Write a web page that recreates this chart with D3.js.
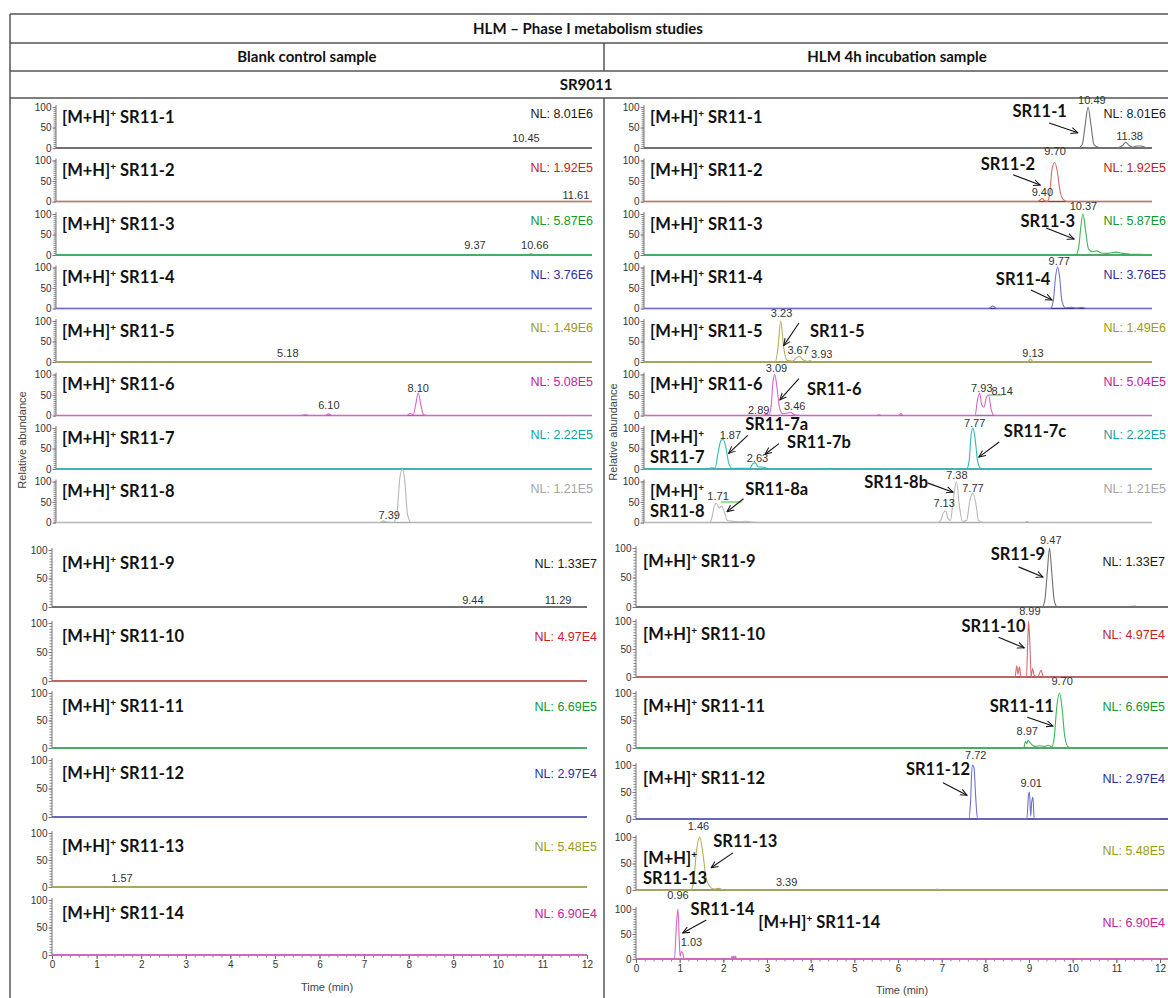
<!DOCTYPE html>
<html>
<head>
<meta charset="utf-8">
<script src="https://cdn.jsdelivr.net/npm/d3@7"></script>
<style>
body{margin:0;background:#fff}
svg{display:block}
.hdr{font-family:Lato,"Open Sans",sans-serif;font-weight:700;font-size:15px;fill:#111}
.lbl{font-family:Lato,"Open Sans",sans-serif;font-weight:700;font-size:16.5px;fill:#111}
.tick text{font-family:"Liberation Sans",Arial,sans-serif;font-size:10px;fill:#333}
.pk{font-family:"Liberation Sans",Arial,sans-serif;font-size:11px;fill:#333}
.nl{font-family:"Liberation Sans",Arial,sans-serif;font-size:12.5px}
.ax{font-family:"Liberation Sans",Arial,sans-serif;font-size:11px;fill:#444}
</style>
</head>
<body>
<script>
// ---- data ----
var ions = d3.range(1, 15).map(function(i){ return "SR11-" + i; });
var nlBlank = ["8.01E6","1.92E5","5.87E6","3.76E6","1.49E6","5.08E5","2.22E5","1.21E5","1.33E7","4.97E4","6.69E5","2.97E4","5.48E5","6.90E4"];
var nlHlm   = ["8.01E6","1.92E5","5.87E6","3.76E5","1.49E6","5.04E5","2.22E5","1.21E5","1.33E7","4.97E4","6.69E5","2.97E4","5.48E5","6.90E4"];
var timeTicks = d3.range(0, 13);
var abundanceTicks = [0, 50, 100];

// chromatogram traces, [time (min), relative abundance %]
var blankTraces = [
  [[0,0],[12,0]],
  [[0,0],[12,0]],
  [[0,0],[9.3,0],[9.37,1],[9.45,0],[10.55,0],[10.63,3],[10.72,0],[12,0]],
  [[0,0],[12,0]],
  [[0,0],[12,0]],
  [[0,0],[5.5,0],[5.58,2],[5.66,0],[6.03,0],[6.1,4],[6.18,0],[7.85,0],[7.93,5],[8.0,2],[8.05,25],[8.11,55],[8.17,25],[8.23,2],[8.3,0],[12,0]],
  [[0,0],[12,0]],
  [[0,0],[7.25,0],[7.33,4],[7.4,1],[7.55,0],[7.63,20],[7.7,110],[7.75,130],[7.8,110],[7.87,20],[7.95,0],[12,0]],
  [[0,0],[9.4,0],[9.44,1],[9.5,0],[12,0]],
  [[0,0],[12,0]],
  [[0,0],[12,0]],
  [[0,0],[12,0]],
  [[0,0],[12,0]],
  [[0,0],[12,0]]
];
var hlmTraces = [
  [[0,0],[10.25,0],[10.35,8],[10.42,55],[10.49,100],[10.56,55],[10.63,8],[10.75,1],[11.2,1],[11.3,6],[11.38,14],[11.46,6],[11.55,2],[11.65,5],[11.75,5],[11.85,1],[12,0]],
  [[0,0],[9.3,0],[9.36,4],[9.40,8],[9.45,3],[9.52,0],[9.58,15],[9.64,80],[9.70,95],[9.76,75],[9.82,30],[9.9,5],[10,0],[12,0]],
  [[0,0],[10.2,0],[10.27,20],[10.32,70],[10.37,100],[10.43,60],[10.5,15],[10.6,8],[10.7,10],[10.8,5],[10.95,4],[11.15,7],[11.3,4],[11.5,2],[11.7,2],[12,0]],
  [[0,0],[8.15,0],[8.24,6],[8.33,0],[9.6,0],[9.67,20],[9.72,75],[9.77,102],[9.82,75],[9.87,20],[9.95,2],[10.1,3],[10.2,1],[10.35,3],[10.45,0],[12,0]],
  [[0,0],[3.1,0],[3.16,30],[3.23,100],[3.3,35],[3.38,4],[3.5,2],[3.6,10],[3.67,14],[3.75,6],[3.85,2],[3.93,3],[4.0,0],[9.05,0],[9.13,7],[9.2,0],[12,0]],
  [[0,0],[2.8,0],[2.89,3],[2.95,1],[3.0,20],[3.05,85],[3.09,100],[3.14,70],[3.2,20],[3.28,4],[3.38,6],[3.46,8],[3.55,2],[3.7,0],[5.5,0],[5.55,2],[5.6,0],[6.02,0],[6.07,5],[6.12,0],[7.82,0],[7.88,40],[7.93,55],[7.98,25],[8.03,20],[8.09,45],[8.14,50],[8.2,15],[8.28,0],[12,0]],
  [[0,0],[1.5,0],[1.6,3],[1.68,2],[1.75,40],[1.82,70],[1.87,72],[1.93,55],[2.0,15],[2.08,2],[2.5,2],[2.58,14],[2.63,15],[2.7,5],[2.78,5],[2.85,4],[2.92,0],[4.3,0],[4.4,2],[4.5,0],[7.62,0],[7.68,20],[7.73,85],[7.77,100],[7.82,75],[7.88,20],[7.95,2],[8.05,0],[12,0]],
  [[0,0],[1.55,0],[1.6,10],[1.66,40],[1.71,47],[1.77,35],[1.83,40],[1.9,25],[1.97,5],[2.1,3],[2.25,2],[2.4,3],[2.55,1],[2.7,0],[6.95,0],[7.02,8],[7.08,25],[7.13,28],[7.18,10],[7.24,5],[7.3,50],[7.38,100],[7.45,40],[7.52,3],[7.62,5],[7.7,55],[7.77,72],[7.84,45],[7.9,5],[8.0,0],[9.0,0],[9.05,3],[9.1,0],[12,0]],
  [[0,0],[9.3,0],[9.36,10],[9.42,60],[9.47,100],[9.52,60],[9.58,10],[9.65,0],[11.3,0],[11.35,1],[11.45,1],[11.5,0],[12,0]],
  [[0,0],[8.68,0],[8.72,20],[8.75,5],[8.78,18],[8.82,0],[8.94,0],[8.97,60],[8.99,100],[9.02,60],[9.05,0],[9.08,15],[9.12,3],[9.2,0],[9.28,12],[9.33,0],[12,0]],
  [[0,0],[8.88,0],[8.92,12],[8.95,8],[8.98,14],[9.02,10],[9.08,5],[9.15,3],[9.25,4],[9.35,3],[9.45,5],[9.52,2],[9.58,20],[9.63,70],[9.70,100],[9.76,70],[9.82,20],[9.9,2],[10.0,0],[12,0]],
  [[0,0],[7.62,0],[7.66,30],[7.70,100],[7.74,95],[7.78,40],[7.82,0],[8.95,0],[8.99,45],[9.01,50],[9.04,5],[9.06,30],[9.09,40],[9.12,0],[12,0]],
  [[0,0],[1.25,0],[1.32,15],[1.38,70],[1.46,100],[1.53,70],[1.6,25],[1.68,8],[1.78,2],[1.9,3],[2.0,0],[3.35,0],[3.39,1],[3.45,0],[6.85,0],[6.9,2],[6.95,0],[12,0]],
  [[0,0],[0.88,0],[0.92,60],[0.96,100],[0.99,40],[1.01,5],[1.04,15],[1.07,12],[1.1,0],[2.18,0],[2.2,6],[2.22,0],[2.24,6],[2.26,0],[2.28,6],[2.3,0],[12,0]]
];

// peak time labels, [time, abundance, text]
var blankPeakLabels = [
  [[10.52,10,"10.45"]],
  [[11.64,1,"11.61"]],
  [[9.38,10,"9.37"],[10.72,10,"10.66"]],
  [],
  [[5.19,7,"5.18"]],
  [[6.11,11,"6.10"],[8.11,52,"8.10"]],
  [],
  [[7.46,3,"7.39"]],
  [[9.44,2,"9.44"],[11.35,2,"11.29"]],
  [], [], [],
  [[1.57,6,"1.57"]],
  []
];
var hlmPeakLabels = [
  [[10.58,102,"10.49"],[11.47,15,"11.38"]],
  [[9.71,108,"9.70"],[9.41,8,"9.40"]],
  [[10.38,105,"10.37"]],
  [[9.81,101,"9.77"]],
  [[3.25,105,"3.23"],[3.64,15,"3.67"],[4.2,4,"3.93"],[9.19,7,"9.13"]],
  [[3.13,101,"3.09"],[2.71,0,"2.89"],[3.56,8,"3.46"],[7.98,52,"7.93"],[8.46,45,"8.14"]],
  [[2.04,68,"1.87"],[2.68,12,"2.63"],[7.81,98,"7.77"]],
  [[1.75,50,"1.71"],[7.09,33,"7.13"],[7.39,101,"7.38"],[7.77,70,"7.77"]],
  [[9.5,103,"9.47"]],
  [[9.02,107,"8.99"]],
  [[9.76,111,"9.70"],[8.96,20,"8.97"]],
  [[7.78,107,"7.72"],[9.05,56,"9.01"]],
  [[1.43,109,"1.46"],[3.45,4,"3.39"]],
  [[0.96,116,"0.96"],[1.27,22,"1.03"]]
];
// short green integration marks, [panel, t start, t end, abundance]
var hlmMarks = [[5, 8.15, 8.45, 50], [7, 1.82, 2.3, 50]];

// metabolite callouts with arrows (time / abundance units)
var hlmCallouts = [
  {p:0,  text:"SR11-1",  at:[9.99,76],  anchor:"end",   from:[9.57,61], to:[10.25,37]},
  {p:1,  text:"SR11-2",  at:[9.24,77],  anchor:"end",   from:[8.72,65], to:[9.36,40]},
  {p:2,  text:"SR11-3",  at:[10.18,68], anchor:"end",   from:[9.5,66],  to:[10.16,39]},
  {p:3,  text:"SR11-4",  at:[9.6,57],   anchor:"end",   from:[9.14,45], to:[9.64,21]},
  {p:4,  text:"SR11-5",  at:[3.92,61],  anchor:"start", from:[3.66,95], to:[3.3,40]},
  {p:5,  text:"SR11-6",  at:[3.85,50],  anchor:"start", from:[3.66,90], to:[3.21,38]},
  {p:6,  text:"SR11-7a", at:[2.39,95],  anchor:"start", from:[2.45,82], to:[2.0,38]},
  {p:6,  text:"SR11-7b", at:[3.38,51],  anchor:"start", from:[3.19,62], to:[2.86,36]},
  {p:6,  text:"SR11-7c", at:[8.5,78],   anchor:"start", from:[8.39,66], to:[7.91,29]},
  {p:7,  text:"SR11-8a", at:[2.39,67],  anchor:"start", from:[2.35,58], to:[1.96,26]},
  {p:7,  text:"SR11-8b", at:[6.71,84],  anchor:"end",   from:[6.71,96], to:[7.3,74]},
  {p:8,  text:"SR11-9",  at:[9.37,80],  anchor:"end",   from:[8.76,68], to:[9.32,51]},
  {p:9,  text:"SR11-10", at:[8.92,80],  anchor:"end",   from:[8.3,71],  to:[8.89,52]},
  {p:10, text:"SR11-11", at:[9.57,65],  anchor:"end",   from:[8.96,56], to:[9.55,40]},
  {p:11, text:"SR11-12", at:[7.65,81],  anchor:"end",   from:[7.03,67], to:[7.58,44]},
  {p:12, text:"SR11-13", at:[1.77,81],  anchor:"start", from:[2.22,70], to:[1.72,42]},
  {p:13, text:"SR11-14", at:[1.25,88],  anchor:"start", from:[1.61,78], to:[1.07,52]}
];

// ---- styles / layout ----
var lineColors = ["#707070","#d86a6a","#3cb45a","#7070cc","#b0b058","#d864c8","#30b8b8","#b8b8b8","#707070","#d86a6a","#3cb45a","#7070cc","#b0b058","#d864c8"];
var baseColors = ["#555","#a33a3a","#2a9a48","#3a3a92","#8c8c48","#c058b0","#22a4a4","#aaa","#555","#a33a3a","#2a9a48","#3a3a92","#8c8c48","#c058b0"];
var nlColors   = ["#1a1a1a","#c8201e","#0e9a2c","#2b2f9c","#9c9c10","#c4209e","#12a2a2","#a6a6a6","#1a1a1a","#c8201e","#0e9a2c","#2b2f9c","#9c9c10","#c4209e"];

var W = 1168, H = 998;
var upperBase = [148,201.5,255,308.5,362,415.5,469,522.5];
var upperH = 41;

var svg = d3.select("body").append("svg").attr("width", W).attr("height", H);
svg.append("defs").append("marker")
  .attr("id","arr").attr("viewBox","0 0 10 10").attr("refX",9).attr("refY",5)
  .attr("markerWidth",7).attr("markerHeight",7).attr("orient","auto")
  .append("path").attr("d","M0,1L9,5L0,9").attr("fill","none").attr("stroke","#111").attr("stroke-width",1.3);

// header table
var grid = "#555";
function hline(y, x1, x2){ svg.append("line").attr("x1",x1).attr("x2",x2).attr("y1",y).attr("y2",y).attr("stroke",grid).attr("stroke-width",1.5); }
function vline(x, y1, y2){ svg.append("line").attr("x1",x).attr("x2",x).attr("y1",y1).attr("y2",y2).attr("stroke",grid).attr("stroke-width",1.5); }
[14,43,71,98].forEach(function(y){ hline(y, 10, W); });
vline(10, 14, H);
vline(604, 43, 71);
vline(604, 98, H);
svg.append("text").attr("class","hdr").attr("x",588).attr("y",34).attr("text-anchor","middle").text("HLM – Phase I metabolism studies");
svg.append("text").attr("class","hdr").attr("x",307).attr("y",62).attr("text-anchor","middle").text("Blank control sample");
svg.append("text").attr("class","hdr").attr("x",897).attr("y",62).attr("text-anchor","middle").text("HLM 4h incubation sample");
svg.append("text").attr("class","hdr").attr("x",586).attr("y",90).attr("text-anchor","middle").text("SR9011");

var columns = [
  {traces: blankTraces, peaks: blankPeakLabels, nl: nlBlank, callouts: [], marks: [],
   upper:[56,592], lower:[52,587], lowerBase:[607,681,748,817,887,955], lowerTop:[550,623,693,760,833,900],
   nlEnd:[593,597], labelX:[62,62], yTitle:[22,440], xTitle:[327,987]},
  {traces: hlmTraces, peaks: hlmPeakLabels, nl: nlHlm, callouts: hlmCallouts, marks: hlmMarks,
   upper:[644,1152], lower:[636,1160], lowerBase:[607,677,748,819,890,959], lowerTop:[548,621,693,765,837,909],
   nlEnd:[1166,1165], labelX:[650,643], yTitle:[613,432], xTitle:[902,990]}
];

function box(col, i){
  if (i < 8) return {x0:col.upper[0], x1:col.upper[1], base:upperBase[i], top:upperBase[i]-upperH, upper:true};
  var j = i - 8;
  return {x0:col.lower[0], x1:col.lower[1], base:col.lowerBase[j], top:col.lowerTop[j], upper:false};
}

function ionLabel(g, x, y, lines){
  // lines: array of [hasPrefix, suffix]
  lines.forEach(function(l, k){
    var t = g.append("text").attr("class","lbl").attr("x",x).attr("y",y + k*20);
    if (l[0]) {
      t.append("tspan").text("[M+H]");
      t.append("tspan").attr("dy",-6).attr("font-size",10).text("+");
      if (l[1]) t.append("tspan").attr("dy",6).text(" " + l[1]);
    } else {
      t.text(l[1]);
    }
  });
}

columns.forEach(function(col, ci){
  ions.forEach(function(ion, i){
    var b = box(col, i);
    var x = d3.scaleLinear().domain([0,12]).range([b.x0, b.x1]);
    var y = d3.scaleLinear().domain([0,100]).range([b.base, b.top]);
    var g = svg.append("g");
    var lineEnd = (ci === 1 && !b.upper) ? W : b.x1;

    // y axis: minor + major ticks
    g.append("g").attr("transform","translate(" + b.x0 + ",0)")
      .call(d3.axisLeft(y).tickValues(d3.range(0,101,5)).tickSize(2.5).tickFormat(""))
      .call(function(s){ s.select(".domain").remove(); s.selectAll("line").attr("stroke","#888"); });
    g.append("g").attr("transform","translate(" + b.x0 + ",0)")
      .call(d3.axisLeft(y).tickValues(abundanceTicks).tickSize(3.5).tickPadding(1))
      .call(function(s){ s.select(".domain").remove(); s.selectAll("line").attr("stroke","#777"); });
    g.append("line").attr("x1",b.x0).attr("x2",b.x0).attr("y1",b.base).attr("y2",b.top-2).attr("stroke","#777");
    g.append("line").attr("x1",b.x0).attr("x2",lineEnd).attr("y1",b.base).attr("y2",b.base).attr("stroke","#999");

    if (i === 13) {
      g.append("g").attr("transform","translate(0," + b.base + ")")
        .call(d3.axisBottom(x).tickValues(d3.range(0,12.01,0.2)).tickSize(2.5).tickFormat(""))
        .call(function(s){ s.select(".domain").remove(); s.selectAll("line").attr("stroke","#888"); });
      g.append("g").attr("transform","translate(0," + b.base + ")")
        .call(d3.axisBottom(x).tickValues(timeTicks).tickSize(4).tickPadding(2))
        .call(function(s){ s.select(".domain").remove(); s.selectAll("line").attr("stroke","#666"); s.selectAll("text").attr("font-size",11); });
    }

    // baseline and trace
    g.append("line").attr("x1",b.x0).attr("x2",lineEnd).attr("y1",b.base).attr("y2",b.base)
      .attr("stroke",baseColors[i]).attr("stroke-width",1.4);
    var line = d3.line().x(function(d){ return x(d[0]); }).y(function(d){ return y(d[1]); }).curve(d3.curveMonotoneX);
    g.append("path").datum(col.traces[i]).attr("d",line).attr("fill","none")
      .attr("stroke",lineColors[i]).attr("stroke-width",1.1);

    col.marks.filter(function(m){ return m[0] === i; }).forEach(function(m){
      g.append("line").attr("x1",x(m[1])).attr("x2",x(m[2])).attr("y1",y(m[3])).attr("y2",y(m[3]))
        .attr("stroke","#5c5").attr("stroke-width",1.2);
    });

    // peak labels
    col.peaks[i].forEach(function(p){
      g.append("text").attr("class","pk").attr("x",x(p[0])).attr("y",y(p[1]) - 2)
        .attr("text-anchor","middle").text(p[2]);
    });

    // NL
    var nlEnd = b.upper ? col.nlEnd[0] : col.nlEnd[1];
    g.append("text").attr("class","nl").attr("fill",nlColors[i])
      .attr("x",nlEnd).attr("text-anchor","end")
      .attr("y", b.top + (b.upper ? 11 : 18)).text("NL: " + col.nl[i]);

    // ion label
    var lx = b.upper ? col.labelX[0] : col.labelX[1];
    var ly = b.top + (b.upper ? 15.5 : 19);
    if (ci === 1 && (i === 6 || i === 7)) ionLabel(g, lx, b.top + 15, [[true,""],[false,ion]]);
    else if (ci === 1 && i === 12) ionLabel(g, lx, b.top + 27, [[true,""],[false,ion]]);
    else if (ci === 1 && i === 13) ionLabel(g, x(2.8), ly, [[true,ion]]);
    else ionLabel(g, lx, ly, [[true,ion]]);

    // callouts
    col.callouts.filter(function(c){ return c.p === i; }).forEach(function(c){
      g.append("text").attr("class","lbl").attr("x",x(c.at[0])).attr("y",y(c.at[1]))
        .attr("text-anchor",c.anchor).text(c.text);
      g.append("line").attr("x1",x(c.from[0])).attr("y1",y(c.from[1]))
        .attr("x2",x(c.to[0])).attr("y2",y(c.to[1]))
        .attr("stroke","#111").attr("stroke-width",1.1).attr("marker-end","url(#arr)");
    });
  });

  svg.append("text").attr("class","ax").attr("transform","translate(" + col.yTitle[0] + "," + col.yTitle[1] + ") rotate(-90)")
    .attr("text-anchor","middle").attr("dy","0.35em").text("Relative abundance");
  svg.append("text").attr("class","ax").attr("x",col.xTitle[0]).attr("y",col.xTitle[1])
    .attr("text-anchor","middle").attr("dy","0.35em").text("Time (min)");
});
</script>
</body>
</html>
